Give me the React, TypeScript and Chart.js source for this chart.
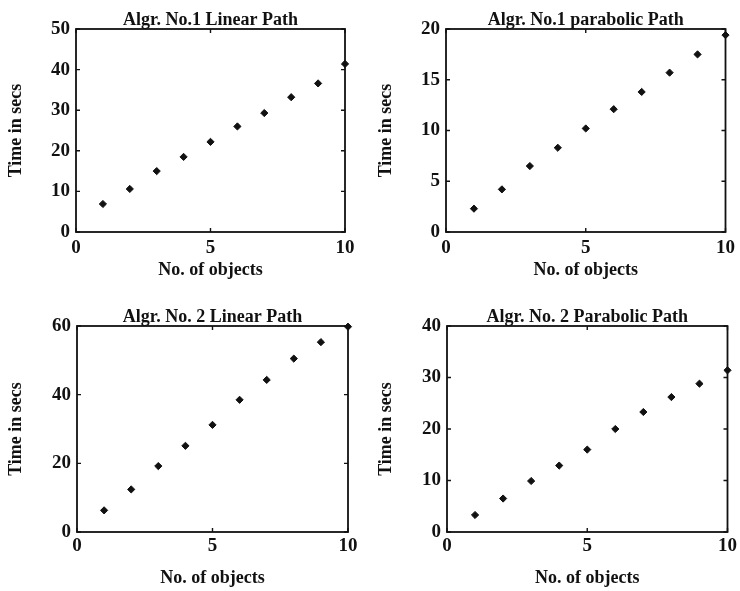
import React, { useEffect, useRef } from "react";
import { Chart, registerables } from "chart.js";

Chart.register(...registerables);

const xValues = [1, 2, 3, 4, 5, 6, 7, 8, 9, 10];
const alg1Linear = [6.9, 10.6, 15.0, 18.5, 22.2, 26.0, 29.3, 33.2, 36.6, 41.4];
const alg1Parabolic = [2.3, 4.2, 6.5, 8.3, 10.2, 12.1, 13.8, 15.7, 17.5, 19.4];
const alg2Linear = [6.3, 12.4, 19.2, 25.1, 31.2, 38.5, 44.3, 50.5, 55.3, 59.8];
const alg2Parabolic = [3.3, 6.5, 9.9, 12.9, 16.0, 20.0, 23.3, 26.2, 28.8, 31.4];

const titles = [
  "Algr. No.1 Linear Path",
  "Algr. No.1 parabolic Path",
  "Algr. No. 2 Linear Path",
  "Algr. No. 2 Parabolic Path",
];
const seriesList = [alg1Linear, alg1Parabolic, alg2Linear, alg2Parabolic];
const yMaxes = [50, 20, 60, 40];
const ySteps = [10, 5, 20, 10];
const xAxisTitle = "No. of objects";
const yAxisTitle = "Time in secs";

// layout (canvas box + chart area inside canvas)
const layouts = [
  { left: 0, top: 0, w: 370, h: 295, aL: 76, aR: 345, aT: 29, aB: 232, xtB: 14, xtp: 5 },
  { left: 370, top: 0, w: 370, h: 295, aL: 76, aR: 357, aT: 29, aB: 232, xtB: 14, xtp: 5 },
  { left: 0, top: 295, w: 370, h: 296, aL: 77, aR: 348, aT: 31, aB: 237, xtB: 2, xtp: 3 },
  { left: 370, top: 295, w: 370, h: 296, aL: 77, aR: 358, aT: 31, aB: 237, xtB: 2, xtp: 3 },
];

const FONT = "'Liberation Serif', 'Times New Roman', serif";
const INK = "#111";

const boxPlugin = {
  id: "boxTicks",
  afterDatasetsDraw(chart: any) {
    const { ctx, chartArea } = chart;
    const { left, right, top, bottom } = chartArea;
    const xs = chart.scales.x;
    const ys = chart.scales.y;
    const len = 4;
    ctx.save();
    ctx.strokeStyle = INK;
    ctx.lineWidth = 1.8;
    ctx.strokeRect(left, top, right - left, bottom - top);
    ctx.lineWidth = 1.4;
    ctx.beginPath();
    xs.ticks.forEach((t: any) => {
      const px = xs.getPixelForValue(t.value);
      ctx.moveTo(px, bottom);
      ctx.lineTo(px, bottom - len);
      ctx.moveTo(px, top);
      ctx.lineTo(px, top + len);
    });
    ys.ticks.forEach((t: any) => {
      const py = ys.getPixelForValue(t.value);
      ctx.moveTo(left, py);
      ctx.lineTo(left + len, py);
      ctx.moveTo(right, py);
      ctx.lineTo(right - len, py);
    });
    ctx.stroke();
    ctx.restore();
  },
};

function Panel({ idx }: { idx: number }) {
  const ref = useRef<HTMLCanvasElement | null>(null);
  const L = layouts[idx];
  useEffect(() => {
    if (!ref.current) return;
    const series = seriesList[idx];
    const chart = new Chart(ref.current, {
      type: "scatter",
      data: {
        datasets: [
          {
            data: xValues.map((x, i) => ({ x, y: series[i] })),
            pointStyle: "rectRot",
            pointRadius: 3.6,
            backgroundColor: INK,
            borderColor: INK,
            borderWidth: 1,
            clip: false as any,
          },
        ],
      },
      options: {
        responsive: false,
        animation: false,
        devicePixelRatio: 1,
        layout: { padding: { left: 0, right: L.w - L.aR, top: 0, bottom: 0 } },
        plugins: {
          legend: { display: false },
          tooltip: { enabled: false },
          title: {
            display: true,
            text: titles[idx],
            fullSize: false,
            color: INK,
            font: { family: FONT, size: 18, weight: "bold", lineHeight: 1.0 },
            padding: { top: L.aT - 18, bottom: 0 },
          },
        },
        scales: {
          x: {
            type: "linear",
            min: 0,
            max: 10,
            grid: { display: false, drawTicks: false },
            border: { display: false },
            ticks: {
              stepSize: 5,
              color: INK,
              padding: L.xtp,
              maxRotation: 0,
              font: { family: FONT, size: 19, weight: "bold" },
            },
            title: {
              display: true,
              text: xAxisTitle,
              color: INK,
              font: { family: FONT, size: 18, weight: "bold", lineHeight: 1.2 },
              padding: { top: 0, bottom: L.xtB },
            },
            afterFit: (s: any) => {
              s.height = L.h - L.aB;
            },
          },
          y: {
            type: "linear",
            min: 0,
            max: yMaxes[idx],
            grid: { display: false, drawTicks: false },
            border: { display: false },
            ticks: {
              stepSize: ySteps[idx],
              color: INK,
              padding: 6,
              font: { family: FONT, size: 19, weight: "bold" },
            },
            title: {
              display: true,
              text: yAxisTitle,
              color: INK,
              font: { family: FONT, size: 18, weight: "bold", lineHeight: 1.2 },
              padding: { top: 6, bottom: 0 },
            },
            afterFit: (s: any) => {
              s.width = L.aL;
            },
          },
        },
      },
      plugins: [boxPlugin],
    });
    return () => chart.destroy();
  }, [idx]);
  return (
    <canvas
      ref={ref}
      width={L.w}
      height={L.h}
      style={{ position: "absolute", left: L.left, top: L.top, width: L.w, height: L.h }}
    />
  );
}

export default function App() {
  return (
    <div
      style={{
        position: "absolute",
        left: 0,
        top: 0,
        width: 740,
        height: 591,
        background: "#fff",
        overflow: "hidden",
      }}
    >
      {[0, 1, 2, 3].map((i) => (
        <Panel key={i} idx={i} />
      ))}
    </div>
  );
}
